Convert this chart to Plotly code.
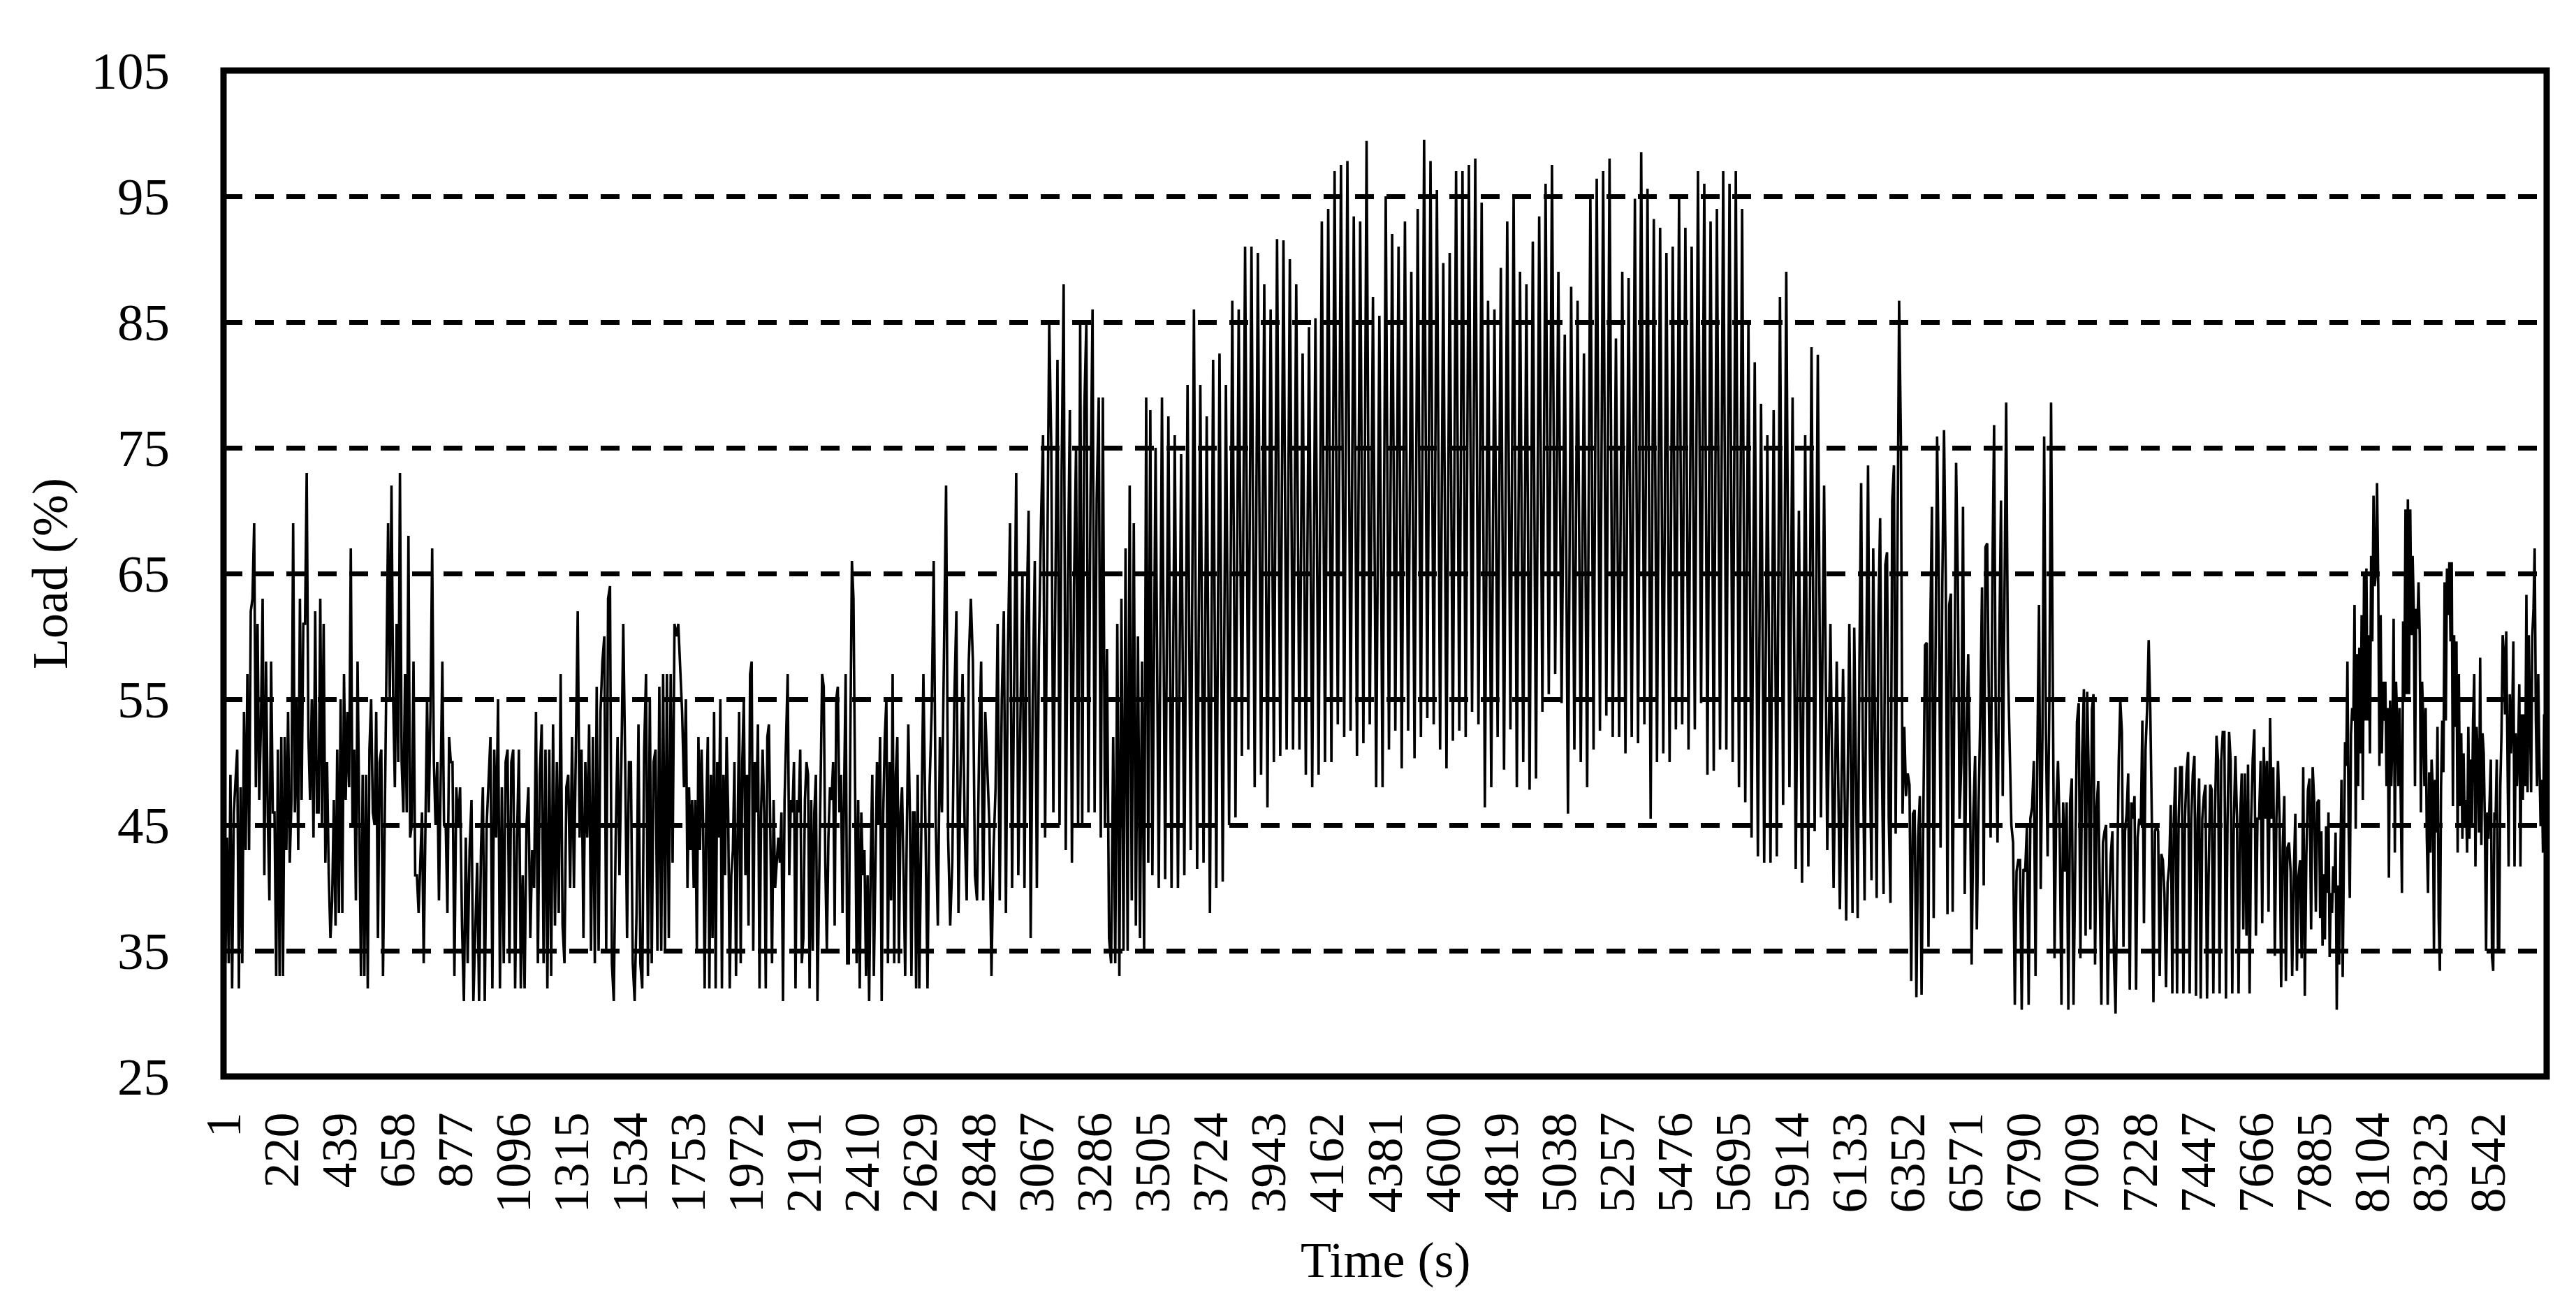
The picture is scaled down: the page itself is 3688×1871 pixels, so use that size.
import numpy as np
import plotly.graph_objects as go

# ---------------- data ----------------
X_TICKS = [1, 220, 439, 658, 877, 1096, 1315, 1534, 1753, 1972, 2191, 2410, 2629, 2848,
           3067, 3286, 3505, 3724, 3943, 4162, 4381, 4600, 4819, 5038, 5257, 5476, 5695,
           5914, 6133, 6352, 6571, 6790, 7009, 7228, 7447, 7666, 7885, 8104, 8323, 8542]
Y_TICKS = [25, 35, 45, 55, 65, 75, 85, 95, 105]

# start hour of each read-off segment (the series is read in 10 consecutive stretches)
SEG_START_HOUR = [1, 864, 1744, 2624, 3503, 4383, 5263, 6143, 7022, 7902]
SEG_END_HOUR = 8760

LOAD_SEG_01 = [47,34,44,34,49,32,46,49,51,32,48,34,54,43,57,43,62,63,69,48,61,47,53,63,41,58,46,39,58,46,
               46,33,51,33,52,33,52,43,54,42,47,69,46,55,43,63,47,61,61,73,52,47,55,44,62,46,46,63,45,61,
               42,50,41,36,39,47,37,51,38,55,38,57,47,54,48,67,45,51,39,58,45,33,49,33,49,32,51,55,46,45,
               54,36,50,51,33,46,57,69,55,72,55,48,61,50,73,50,46,57,46,68,44,45,58,41,41,38,42,46,34,46,
               55,46,54,67,50,45,50,39,49,58,45,45,38,52,50]
LOAD_SEG_02 = [50,33,48,45,48,37,31,44,34,43,47,31,36,42,31,43,48,31,45,49,52,32,51,44,55,32,48,34,50,51,
               34,50,51,32,44,51,32,41,32,45,48,36,43,40,54,34,49,53,34,51,32,51,33,53,37,50,38,57,37,34,
               48,49,40,52,40,51,62,44,51,36,50,44,53,35,52,34,56,35,54,58,60,35,63,64,34,31,44,52,41,50,
               61,50,36,50,50,34,31,38,53,34,32,51,57,33,55,34,50,51,35,56,35,57,35,57,36,57,42,61,60,61,
               57,54,48]
LOAD_SEG_03 = [55,40,48,43,47,40,47,35,52,43,51,45,32,46,52,32,49,36,54,32,50,44,55,32,49,41,52,46,32,41,
               43,50,33,44,54,34,50,55,41,49,37,57,58,35,50,46,53,32,46,51,46,32,52,53,45,34,47,40,42,44,
               42,46,31,47,52,57,41,47,46,50,32,47,46,51,34,36,47,50,49,32,47,35,46,49,31,41,50,57,56,42,
               35,44,48,47,50,37,55,56,46,49,38,46,57,34,34,52,66,63,47,34,47,32,46,41,43,33,41,31,42,49,
               33,43,50,45,52,31,46,52,55,34,50,39,57,34,49,52,34,46,48,41,33,44,53,46,33,46,46,32,49]
LOAD_SEG_04 = [32,45,57,45,32,48,54,66,45,37,52,46,58,72,44,37,42,55,62,38,49,57,45,39,58,63,58,41,39,51,
               58,39,54,50,45,33,43,48,61,39,55,62,38,59,69,40,59,73,41,55,65,40,61,70,36,55,66,40,59,69,
               76,44,68,85,75,46,64,82,45,73,88,43,64,78,42,64,75,45,85,45,78,85,46,71,86,46,71,79,44,79,
               45,59,36,34,52,34,61,33,63,35,67,35,72,39,69,37,60,36,58,35,79,42,78]
LOAD_SEG_05 = [41,75,40,79,40.7,77.5,40,76,40,74.5,41,80,43,86,41.5,80,42,77.5,38,82,40,82.5,40.5,80,45,
               86.7,45.6,86,50.5,91,51,91,48,90.5,49,88,46.4,86,50,91.6,50.5,91.5,51,90,51,88,51,82.5,49,
               84.6,48,85.3,49,93,50,94,50,97,53,97.5,52,97.8,52.5,93.4,50.5,93,51.5,99.4,53,87,48,85.5,48]
LOAD_SEG_06 = [95,51,92,52.5,91,49.5,93,52.5,89,50.3,94,52,99.5,53.5,97.8,53,95.5,51,89.7,49.5,90.5,51.7,
               97,52.5,97,52,97.5,54,98,53,94.5,46.4,86.7,48,86,52,89.3,49.4,93,52.6,95,48,89,50,88,47.8,
               91.4,48.7,93.4,54,96,55.4,97.5,57,89,54.7,84,45.9,87.8,51,86.7,50,82.5,48,95,51,96.4,52.5,
               97,53.7,98,52,83.7]
LOAD_SEG_07 = [52,89,50.7,88.5,52,94.8,51.5,98.5,53,95.6,45.5,93.2,50,92.5,50.7,90.5,50,91,52.6,94.8,53,
               92.5,51,91,52.6,97,54.7,96,49,93,49.3,94,51,97,51,96,50,97,48,94,46.8,85,44,81.8,42.5,78.5,
               42,76,42,78,42.5,87,46.6,89,48,79,41.5,70,40.4,76,41.7,83,44.5,82.4,45.6,72,43,61,40,58,
               38.3,57.4,37.4,61]
LOAD_SEG_08 = [38,60.7,50,37.6,57.9,72.2,51,39,58.4,73.6,51,40.6,67,54.7,39.2,61.6,69.4,50,39.5,65.7,66.7,
               45.5,38.8,70.8,73.6,44.3,66.2,86.7,75.9,45.9,52.8,47.3,49.1,48.2,32.6,45.9,46.2,31.3,44,
               47.3,31.5,47.3,59.3,59.5,35.3,60.2,70.3,37.6,59.3,75.9,64.4,43.2,63.9,76.4,64.8,37.9,62.5,
               63.4,38.1,55.6,73.8,64.4,45.5,50,70.3,39.5,51.9,58.6,48.7,33.9,45.9,50.5,36.7,46.4,53.8,
               63.9,40.2,67.1,67.4,54.7,44,64.8,76.8,52.4,43.6,59.3,70.8,47.3,64.4,78.6,57.9,50.1,45,43.6,
               30.7,41.3,42.2,42.2,30.3,41.5,41.3,44.8,30.7,45.5,46.4,50.1,33,50.1,62.5,39.9,52,75.9,52.4,
               42.5,54.7,78.6,57.7,34.4,46.4,50.1,44.3,30.7,46.8,41.3,46.8,30.3,46.8,48.7,30.7,43.6,53.2,
               54.7,34.4,50.5,55.8]
LOAD_SEG_09 = [36.2,55.6,48.7,36.7,54.2,55.4,33.9,46.4,48.5,40.4,30.7,43.6,44.5,45,30.7,38.6,42.7,44.5,
               34.4,30,39.5,50.1,54.9,52.4,35.3,44.5,45.9,49.1,31.9,46.8,45.5,47.3,31.9,44,45.5,45,53.3,
               37.2,51,54.2,59.7,54.2,45.5,30.9,44.5,45,44.5,33,42.7,42.2,39.5,32.1,40.4,41.8,46.6,31.6,
               45.5,49.6,31.6,45.5,49.6,49.6,31.6,45.5,49.1,50.8,31.6,45.5,49.1,50.5,31.4,45.5,48.7,31.2,
               45.5,47.3,48.2,31.2,40.9,48.2,47.8,31.6,45.5,52.1,50.1,31.6,50.1,52.4,52.4,31.2,45.5,52.4,
               50.1,31.6,45.5,50.5,45.5,31.6,45.5,49.1,36.7,49.1,36.2,49.8,31.6,45.5,50.3,52.6,36.2,45.5,
               45.5,50.1,37.2,51.2,45.5,50.1,38.1,53.5,45.5,49.6,34.6,45.5,50.1,45.5,32.1,43.2,47.3,32.6,
               43.2,43.6,41.3,33,40.9,45.9,33.4,40.9,42.2,34.4,49.6,31.4,42.7,47.8,48.7,36.7,49.6,46.8,
               38.1,46.8]
LOAD_SEG_10 = [47,37.6,44.5,35.4,41.1,35.9,44.9,39.6,46,34.5,39.6,38,41.7,39.6,44.4,30.3,40.2,33.9,41.7,
               48.6,32.9,43.4,51.6,49.7,58,44.9,39.2,52.2,54.3,53.3,62.5,44.7,58.6,48.1,59.1,50.7,61.7,47,
               64.9,53.3,65.4,53.3,60.1,50.7,66.4,59.6,71.2,64,65,72.2,64,49.7,61.7,50.7,56.4,53.3,56.4,
               48.1,54.3,40.8,54.9,48.1,52.3,61.4,42.8,56.4,53.3,48.1,54.3,47,39.6,61.2,54.9,70.1,55.4,
               70.9,55.4,70.1,60.1,66.4,62.2,48.1,62.2,60.6,64.3,60.1,46,56.4,53.3,48.1,54.3,43.9,39.6,
               49.2,42.8,50.2,48.1,35,48.6,44.4,52.8,37.6,33.4,48.1,53.3,49.2,64.3,53.3,65.4,61.7,65.9,
               59.6,65.9,46.5,60.1,52.8,59.6,42.8,57,46.5,52.3,43.9,50.7,44.9,47,42.8,52.8,43.9,50.2,44.9,
               53.3,57,41.7,52.8,50.2,44.4,58.3,43.4,52.3,50.7,44.9,35,46,43.9,46.5,50.2,34.5,33.4,46,45.4,
               50.2,35,35,48.1,52.3,60.1,58.6,53.8,60.4,51.2,41.7,55.4,50.7,53.3,59.6,41.7,52.3,48.1,50.7,
               56.2,41.7,53.8,47,53.8,48.1,63.3,47.6,60.1,53.3,47.6,60.1,62.2,67,53.3,48.1,57,50.2,44.9,
               48.6,42.8,53.8,42.8,50.7]

SEGMENTS = [LOAD_SEG_01, LOAD_SEG_02, LOAD_SEG_03, LOAD_SEG_04, LOAD_SEG_05,
            LOAD_SEG_06, LOAD_SEG_07, LOAD_SEG_08, LOAD_SEG_09, LOAD_SEG_10]

# ---------------- build series ----------------
hours, loads = [], []
for i, seg in enumerate(SEGMENTS):
    a = SEG_START_HOUR[i]
    last = i == len(SEGMENTS) - 1
    b = SEG_END_HOUR if last else SEG_START_HOUR[i + 1]
    xs = np.linspace(a, b, len(seg), endpoint=last)
    hours.extend(xs.tolist())
    loads.extend(seg)

# ---------------- figure ----------------
W, H = 3688, 1871
PL, PR, PT, PB = 312, 3638, 93, 1533   # plot-area edges in pixels
FONT = "Liberation Serif, Times New Roman, serif"

fig = go.Figure(go.Scatter(x=hours, y=loads, mode="lines",
                           line=dict(color="black", width=3.6), hoverinfo="skip"))

fig.update_layout(
    width=W, height=H,
    margin=dict(l=PL, r=W - PR, t=PT, b=H - PB, pad=0),
    paper_bgcolor="white", plot_bgcolor="white", showlegend=False,
    font=dict(family=FONT, size=72, color="black"),
)
fig.update_xaxes(range=[0.5, 8760.5], tickmode="array", tickvals=X_TICKS,
                 ticktext=[str(v) for v in X_TICKS], tickangle=-90,
                 showgrid=False, zeroline=False, showline=False, ticks="",
                 ticklabelstandoff=36, tickfont=dict(family=FONT, size=72))
fig.update_yaxes(range=[25, 105], tickmode="array", tickvals=Y_TICKS,
                 ticktext=[str(v) for v in Y_TICKS],
                 showgrid=True, gridcolor="black", gridwidth=7, griddash="27px,18px",
                 zeroline=False, showline=False, ticks="",
                 ticklabelstandoff=76, tickfont=dict(family=FONT, size=75))

fig.add_shape(type="rect", xref="paper", yref="paper", x0=0, x1=1, y0=0, y1=1,
              line=dict(color="black", width=9), layer="above")

fig.add_annotation(text="Time (s)", xref="paper", yref="paper",
                   x=0.5, y=(PB - 1796) / (PB - PT), xanchor="center", yanchor="middle",
                   showarrow=False, font=dict(family=FONT, size=72))
fig.add_annotation(text="Load (%)", xref="paper", yref="paper",
                   x=(64 - PL) / (PR - PL), y=0.5, xanchor="center", yanchor="middle",
                   textangle=-90, showarrow=False, font=dict(family=FONT, size=72))

fig.write_html("out.html")
